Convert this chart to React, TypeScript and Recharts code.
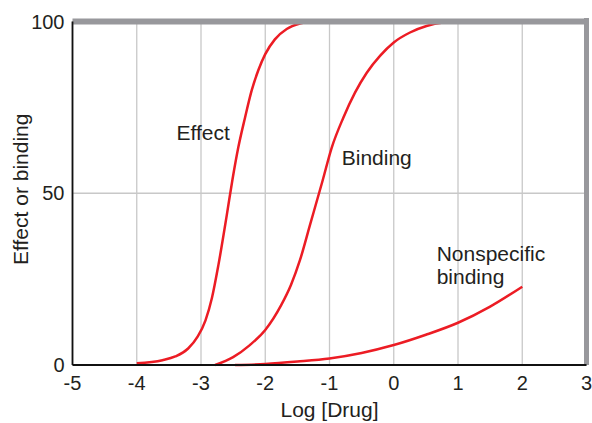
import React from 'react';
import { LineChart, Line, XAxis, YAxis, CartesianGrid, ReferenceLine, ReferenceDot, Label } from 'recharts';

const xTicks = [-5, -4, -3, -2, -1, 0, 1, 2, 3];
const yTicks = [0, 50, 100];

const effectLogDose = [-4, -3.6, -3.4, -3.2, -3.05, -2.93, -2.83, -2.73, -2.6, -2.51, -2.42, -2.315, -2.21, -2.108, -2, -1.85, -1.666, -1.46, -1.3];
const effectValues = [0.5, 1.4, 2.5, 4.8, 8.3, 13, 19.5, 29, 43.5, 54, 63.3, 72, 80, 85.8, 90.5, 94.8, 97.8, 99.4, 100];

const bindingLogDose = [-2.78, -2.5, -2.24, -2, -1.75, -1.6, -1.46, -1.3, -1.11, -0.965, -0.785, -0.603, -0.42, -0.214, 0, 0.253, 0.51, 0.77, 1.05];
const bindingValues = [0, 2.3, 5.8, 10.2, 17.5, 23.3, 30.5, 41, 53.5, 63.3, 72, 79.3, 85.1, 90, 93.9, 96.8, 98.7, 99.7, 100];

const nonspecificLogDose = [-2.47, -2, -1.5, -1, -0.5, 0, 0.5, 1, 1.5, 2];
const nonspecificValues = [0, 0.3, 1, 1.9, 3.5, 5.8, 8.8, 12.3, 17, 22.8];

const curveLabels = [
  { x: -3.38, y: 65.4, lines: ['Effect'] },
  { x: -0.81, y: 58.3, lines: ['Binding'] },
  { x: 0.668, y: 30.4, lines: ['Nonspecific', 'binding'] },
];

const build = (xs: number[], ys: number[]) => xs.map((x, i) => ({ x, y: ys[i] }));

const effectData = build(effectLogDose, effectValues);
const bindingData = build(bindingLogDose, bindingValues);
const nonspecificData = build(nonspecificLogDose, nonspecificValues);

const FONT = '"Liberation Sans", Arial, Helvetica, sans-serif';
const TEXT = '#231f20';
const RED = '#ec1c24';
const BORDER = '#98989c';

export default function App() {
  return (
    <div style={{ position: 'absolute', left: 0, top: 0, width: 592, height: 423, background: '#fff' }}>
      <LineChart
        width={592}
        height={423}
        margin={{ top: 21.5, right: 5.5, bottom: 28, left: 12.5 }}
        style={{ fontFamily: FONT }}
      >
        <CartesianGrid stroke="#c8c8c8" strokeWidth={1.3} />
        <XAxis
          type="number"
          dataKey="x"
          domain={[-5, 3]}
          ticks={xTicks}
          height={30}
          tickLine={false}
          tickMargin={5}
          axisLine={{ stroke: '#111', strokeWidth: 1.8 }}
          tick={{ fontSize: 20, fill: TEXT, fontFamily: FONT }}
          allowDuplicatedCategory={false}
        >
          <Label
            content={(props: any) => {
              const vb = props.viewBox || {};
              return (
                <text
                  x={vb.x + vb.width / 2}
                  y={vb.y + 52}
                  textAnchor="middle"
                  fontSize={21}
                  fill={TEXT}
                  fontFamily={FONT}
                >
                  Log [Drug]
                </text>
              );
            }}
          />
        </XAxis>
        <YAxis
          type="number"
          domain={[0, 100]}
          ticks={yTicks}
          width={60}
          tickLine={false}
          axisLine={{ stroke: '#111', strokeWidth: 1.8 }}
          tick={{ fontSize: 20, fill: TEXT, fontFamily: FONT }}
        >
          <Label
            content={(props: any) => {
              const vb = props.viewBox || {};
              const cx = vb.x + 15.8;
              const cy = vb.y + vb.height / 2 - 4;
              return (
                <text
                  x={0}
                  y={0}
                  transform={`translate(${cx},${cy}) rotate(-90)`}
                  textAnchor="middle"
                  fontSize={21}
                  fill={TEXT}
                  fontFamily={FONT}
                >
                  Effect or binding
                </text>
              );
            }}
          />
        </YAxis>
        <Line data={nonspecificData} dataKey="y" type="monotone" stroke={RED} strokeWidth={2.5} dot={false} isAnimationActive={false} />
        <Line data={bindingData} dataKey="y" type="monotone" stroke={RED} strokeWidth={2.5} dot={false} isAnimationActive={false} />
        <Line data={effectData} dataKey="y" type="monotone" stroke={RED} strokeWidth={2.5} dot={false} isAnimationActive={false} />
        <ReferenceLine y={100} stroke={BORDER} strokeWidth={6} />
        <ReferenceLine
          segment={[{ x: 3, y: 0 }, { x: 3, y: 101 }]}
          stroke={BORDER}
          strokeWidth={5}
          ifOverflow="visible"
        />
        {curveLabels.map((l, i) => (
          <ReferenceDot
            key={i}
            x={l.x}
            y={l.y}
            ifOverflow="visible"
            shape={(p: any) => (
              <text x={p.cx} y={p.cy} fontSize={21} fill={TEXT} fontFamily={FONT} textAnchor="start">
                {l.lines.map((t, j) => (
                  <tspan key={j} x={p.cx} dy={j === 0 ? 0 : 23.3}>
                    {t}
                  </tspan>
                ))}
              </text>
            )}
          />
        ))}
      </LineChart>
    </div>
  );
}
